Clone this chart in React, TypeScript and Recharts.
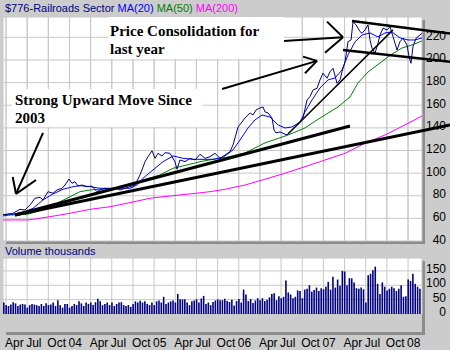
import {
  ComposedChart,
  Line,
  Bar,
  XAxis,
  YAxis,
  CartesianGrid,
  ReferenceLine,
} from "recharts";

// x values are months counted from Jan 2003 (Apr 03 = 3, Jan 08 = 60)
const X_DOMAIN: [number, number] = [2.575, 61.98];
const QUARTER_TICKS = [3, 6, 9, 12, 15, 18, 21, 24, 27, 30, 33, 36, 39, 42, 45, 48, 51, 54, 57, 60];
const MONTH_NAMES: Record<number, string> = { 3: "Apr", 6: "Jul", 9: "Oct" };

const PRICE_DOMAIN: [number, number] = [40, 238];
const PRICE_TICKS = [40, 60, 80, 100, 120, 140, 160, 180, 200, 220];
const VOLUME_TICKS = [0, 50, 100, 150];

const PRICE: [number, number][] = [
  [2.57, 63.0], [3.28, 63.9], [3.99, 64.5], [4.56, 66.5], [4.99, 68.0], [5.69, 67.4],
  [6.4, 71.8], [7.11, 77.8], [7.82, 78.6], [8.25, 76.3], [8.95, 83.6], [9.66, 82.2],
  [10.23, 85.1], [10.94, 86.6], [11.37, 89.5], [11.93, 94.8], [12.36, 91.0], [12.78, 92.4],
  [13.21, 88.6], [13.78, 89.5], [14.48, 88.0], [15.19, 88.6], [15.9, 83.6], [16.33, 85.1],
  [17.04, 86.6], [17.75, 85.1], [18.46, 86.6], [19.17, 85.1], [19.87, 86.6], [20.58, 88.0],
  [21.29, 89.5], [22.0, 98.4], [22.71, 110.1], [23.13, 114.5], [23.7, 119.8], [24.13, 113.1],
  [24.55, 117.5], [25.12, 115.2], [25.54, 118.1], [26.25, 117.5], [26.96, 110.1], [27.24, 103.4],
  [27.67, 111.6], [28.38, 110.1], [29.09, 113.1], [29.8, 111.6], [30.51, 116.7], [31.22, 113.1],
  [31.92, 114.5], [32.63, 117.5], [33.34, 113.1], [34.05, 116.0], [34.76, 119.0], [35.19, 124.9],
  [35.9, 140.8], [36.46, 145.2], [36.89, 148.8], [37.6, 153.2], [38.02, 151.4], [38.45, 155.8],
  [39.01, 157.6], [39.44, 158.5], [39.72, 154.1], [40.15, 153.2], [40.71, 148.8], [41.0, 138.1],
  [41.28, 135.5], [41.85, 136.4], [42.84, 133.7], [43.55, 138.1], [44.26, 142.6], [44.97, 147.0],
  [45.11, 148.8], [45.68, 164.7], [46.1, 167.6], [46.53, 173.5], [47.1, 175.0], [47.52, 182.4],
  [47.95, 188.3], [48.52, 183.9], [48.94, 189.7], [49.37, 192.7], [49.93, 179.4], [50.36, 182.4],
  [50.64, 189.7], [51.07, 198.5], [51.49, 216.2], [51.92, 217.7], [52.2, 233.9], [52.63, 231.0],
  [52.91, 228.1], [53.19, 225.1], [53.48, 223.6], [53.9, 226.6], [54.33, 231.0], [54.61, 217.7],
  [54.89, 210.4], [55.32, 206.0], [55.74, 214.8], [56.03, 222.1], [56.45, 228.1], [57.02, 226.6],
  [57.45, 229.5], [57.87, 220.6], [58.44, 208.9], [58.86, 216.2], [59.29, 219.2], [59.85, 213.3],
  [60.14, 203.0], [60.42, 197.1], [60.7, 211.8], [61.13, 219.2], [61.41, 220.6], [61.98, 223.6],
];

const MA20: [number, number][] = [
  [2.57, 62.1], [3.99, 63.6], [5.69, 65.9], [6.83, 68.9], [8.25, 76.3], [9.66, 81.6],
  [11.08, 85.7], [12.5, 88.0], [13.49, 88.9], [14.91, 88.0], [16.33, 86.6], [17.75, 86.6],
  [19.16, 86.6], [20.58, 86.6], [21.57, 89.5], [22.42, 95.4], [23.84, 102.8], [25.26, 110.1],
  [26.68, 115.2], [28.1, 113.1], [29.51, 112.2], [30.93, 112.2], [32.35, 112.2], [33.77, 114.0],
  [35.19, 120.5], [36.18, 129.3], [37.31, 139.9], [38.3, 147.0], [39.3, 151.4], [40.43, 149.6],
  [41.57, 142.6], [42.56, 139.9], [43.55, 140.8], [44.69, 145.2], [45.4, 154.1], [46.39, 164.7],
  [47.52, 175.3], [48.66, 182.4], [49.65, 184.1], [50.64, 191.2], [51.49, 204.5], [52.48, 216.0],
  [53.48, 222.1], [54.61, 223.9], [55.74, 220.4], [56.74, 223.9], [57.73, 224.8], [58.86, 219.5],
  [60.0, 217.7], [60.99, 217.7], [61.98, 219.5],
];

const MA50: [number, number][] = [
  [2.57, 63.6], [3.99, 63.0], [5.98, 63.6], [6.83, 65.0], [8.81, 68.9], [10.23, 73.3],
  [11.65, 77.8], [13.49, 83.6], [14.91, 85.1], [16.75, 86.0], [18.74, 86.6], [20.58, 89.5],
  [22.42, 93.9], [24.83, 98.4], [26.68, 104.3], [28.66, 107.2], [30.51, 110.1], [32.35, 112.2],
  [34.05, 113.7], [36.89, 117.8], [39.72, 126.7], [42.98, 133.7], [45.39, 139.9], [47.1, 147.0],
  [48.23, 151.4], [50.07, 158.5], [51.77, 167.3], [52.91, 179.7], [54.33, 189.4], [56.03, 197.4],
  [57.73, 205.3], [59.15, 210.6], [60.57, 213.3], [61.98, 216.8],
];

const MA200: [number, number][] = [
  [2.57, 58.6], [6.12, 58.6], [6.83, 59.2], [9.24, 61.5], [12.07, 64.5], [14.91, 68.0],
  [17.75, 70.3], [20.58, 73.9], [23.42, 77.8], [26.25, 79.8], [29.09, 81.6], [31.92, 83.6],
  [34.05, 85.7], [36.89, 89.5], [39.72, 94.6], [42.56, 99.9], [45.39, 105.7], [48.23, 111.6],
  [51.07, 117.5], [53.9, 126.4], [56.74, 133.7], [59.57, 142.6], [61.98, 150.5],
];

// volume in thousands, one bar per third of a month starting mid-March 2003
const VOL_START = 2.74;
const VOL_STEP = 1 / 3;
const VOLUME = [
  40, 31, 28, 33, 41, 37, 28, 33, 35, 33,
  22, 31, 35, 33, 31, 28, 35, 28, 37, 31,
  33, 40, 28, 48, 31, 22, 35, 35, 22, 28,
  35, 31, 44, 37, 28, 40, 35, 40, 31, 41,
  53, 44, 31, 35, 40, 31, 40, 28, 35, 40,
  41, 31, 28, 31, 25, 35, 44, 40, 46, 40,
  44, 35, 31, 40, 31, 44, 47, 40, 60, 35,
  40, 44, 47, 40, 70, 51, 51, 51, 40, 31,
  44, 47, 51, 40, 54, 63, 35, 40, 31, 42,
  47, 51, 48, 48,
  53, 45, 42, 50, 30, 45, 52, 40, 85, 68,
  45, 52, 38, 47, 55,
  48, 55, 45, 50, 58, 70, 72, 48, 62, 55, 60,
  117, 75, 68, 55, 60,
  82, 80, 55, 85, 88, 100, 78, 84, 92, 80, 90, 86,
  95, 112, 85, 130, 92, 120, 98,
  150, 148, 100, 125, 124, 110, 90,
  88, 92, 86, 40,
  135, 140, 152, 165,
  105, 70, 110, 95, 82, 88, 95, 90, 80, 88, 100, 60,
  62, 120, 115, 140, 105, 95, 88,
];

// hand drawn trend lines and arrows, in (month, price)
const ANNOTATIONS: { from: [number, number]; to: [number, number]; w: number }[] = [
  { from: [4.28, 63.0], to: [51.77, 141.7], w: 3 },
  { from: [4.28, 63.0], to: [65.95, 142.6], w: 3 },
  { from: [42.98, 134.6], to: [57.87, 226.6], w: 1.5 },
  { from: [52.06, 234.5], to: [65.95, 223.5], w: 2.5 },
  { from: [50.78, 208.9], to: [65.95, 198.5], w: 2.5 },
  { from: [37.88, 215.1], to: [50.78, 220.1], w: 2 },
  { from: [48.51, 233.9], to: [50.78, 220.1], w: 2 },
  { from: [50.78, 220.1], to: [48.23, 206.5], w: 2 },
  { from: [33.63, 174.4], to: [47.1, 199.2], w: 2 },
  { from: [45.11, 203.0], to: [47.1, 199.2], w: 2 },
  { from: [47.1, 199.2], to: [45.39, 188.3], w: 2 },
  { from: [8.25, 135.5], to: [4.42, 81.6], w: 2 },
  { from: [3.95, 96.6], to: [4.42, 81.6], w: 2 },
  { from: [4.42, 81.6], to: [7.25, 93.9], w: 2 },
];

const toPoints = (rows: [number, number][]) => rows.map(([m, v]) => ({ m, v }));
const priceData = toPoints(PRICE);
const volumeData = VOLUME.map((v, i) => ({ m: VOL_START + i * VOL_STEP, v }));

const SANS = "'Liberation Sans', Arial, sans-serif";
const SERIF = "'Liberation Serif', 'Times New Roman', serif";
const GRID = "#c8c8c8";
const SHADOW = "#8c8c8c";

const RightTick = ({ y, payload, dy }: any) => (
  <text x={446} y={y + dy} textAnchor="end" dominantBaseline="central" fontSize={12} fontFamily={SANS} fill="#000">
    {payload.value}
  </text>
);

const DateTick = ({ x, payload }: any) => {
  const m = payload.value as number;
  const label = m % 12 === 0 ? String(2003 + m / 12).slice(2) : MONTH_NAMES[m % 12];
  return (
    <text x={x - 1} y={103} textAnchor="start" fontSize={12} fontFamily={SANS} fill="#000">
      {label}
    </text>
  );
};

// the price panel shares the dates row of the volume panel, so its own ticks draw nothing
const BlankTick = ({ x, y }: any) => <text x={x} y={y} fontSize={1} fill="none" />;

const box = (left: number, top: number, width: number, height: number, bg: string) => (
  <div style={{ position: "absolute", left, top, width, height, background: bg }} />
);

export default function App() {
  return (
    <div style={{ position: "fixed", left: 0, top: 0, width: 450, height: 350, background: "#cccccc", overflow: "hidden" }}>
      <div style={{ position: "absolute", left: 5, top: 1, fontFamily: SANS, fontSize: 11, whiteSpace: "pre", lineHeight: "14px" }}>
        <span style={{ color: "#000080" }}>$776-Railroads Sector </span>
        <span style={{ color: "#0000ff" }}>MA(20) </span>
        <span style={{ color: "#008000" }}>MA(50) </span>
        <span style={{ color: "#ff00ff" }}>MA(200)</span>
      </div>
      {box(422, 20, 3, 224, SHADOW)}
      {box(6, 241, 419, 3, SHADOW)}
      {box(422, 261, 3, 74, SHADOW)}
      {box(6, 332, 419, 3, SHADOW)}

      <div style={{ position: "absolute", left: 0, top: 0 }}>
        <ComposedChart width={450} height={252} data={priceData} margin={{ top: 17, right: 0, bottom: 3, left: 3 }}>
          <CartesianGrid fill="#ffffff" stroke={GRID} />
          <XAxis
            type="number"
            dataKey="m"
            domain={X_DOMAIN}
            ticks={QUARTER_TICKS}
            interval={0}
            allowDataOverflow
            height={8}
            axisLine={false}
            tickLine={false}
            tick={<BlankTick />}
          />
          <YAxis
            orientation="right"
            width={28}
            domain={PRICE_DOMAIN}
            ticks={PRICE_TICKS}
            interval={0}
            allowDataOverflow
            axisLine={false}
            tickLine={false}
            tick={<RightTick dy={-1.5} />}
          />
          {QUARTER_TICKS.map((t) => (
            <ReferenceLine key={`q${t}`} x={t} stroke={GRID} strokeWidth={1} ifOverflow="visible" />
          ))}
          <Line data={toPoints(MA200)} dataKey="v" stroke="#ff00ff" strokeWidth={1} dot={false} isAnimationActive={false} />
          <Line data={toPoints(MA50)} dataKey="v" stroke="#008000" strokeWidth={1} dot={false} isAnimationActive={false} />
          <Line data={toPoints(MA20)} dataKey="v" stroke="#0000ff" strokeWidth={1} dot={false} isAnimationActive={false} />
          <Line dataKey="v" stroke="#000080" strokeWidth={1} dot={false} isAnimationActive={false} />
          {ANNOTATIONS.map((a, i) => (
            <ReferenceLine
              key={i}
              segment={[{ x: a.from[0], y: a.from[1] }, { x: a.to[0], y: a.to[1] }]}
              stroke="#000"
              strokeWidth={a.w}
              ifOverflow="visible"
            />
          ))}
        </ComposedChart>
      </div>

      <div style={{ position: "absolute", left: 5, top: 244, fontFamily: SANS, fontSize: 11, color: "#000080", lineHeight: "14px" }}>
        Volume thousands
      </div>

      <div style={{ position: "absolute", left: 0, top: 244 }}>
        <ComposedChart width={450} height={106} data={volumeData} margin={{ top: 14, right: 0, bottom: 18, left: 3 }}>
          <CartesianGrid fill="#ffffff" stroke={GRID} />
          <XAxis
            type="number"
            dataKey="m"
            domain={X_DOMAIN}
            ticks={QUARTER_TICKS}
            interval={0}
            allowDataOverflow
            height={18}
            axisLine={false}
            tickLine={false}
            tick={<DateTick />}
          />
          <YAxis
            orientation="right"
            width={28}
            domain={[0, 195]}
            ticks={VOLUME_TICKS}
            interval={0}
            allowDataOverflow
            axisLine={false}
            tickLine={false}
            tick={<RightTick dy={-2} />}
          />
          <Bar dataKey="v" fill="#000080" barSize={1.6} isAnimationActive={false} />
        </ComposedChart>
      </div>

      <div
        style={{
          position: "absolute",
          left: 108,
          top: 17,
          width: 176,
          height: 42,
          background: "#fff",
          fontFamily: SERIF,
          fontWeight: "bold",
          fontSize: 15,
          lineHeight: "18px",
          paddingLeft: 2,
          paddingTop: 5,
          boxSizing: "border-box",
        }}
      >
        Price Consolidation for
        <br />
        last year
      </div>
      <div
        style={{
          position: "absolute",
          left: 12,
          top: 89,
          width: 190,
          height: 38,
          background: "#fff",
          fontFamily: SERIF,
          fontWeight: "bold",
          fontSize: 15,
          lineHeight: "18px",
          paddingLeft: 3,
          paddingTop: 2,
          boxSizing: "border-box",
        }}
      >
        Strong Upward Move Since
        <br />
        2003
      </div>
    </div>
  );
}
